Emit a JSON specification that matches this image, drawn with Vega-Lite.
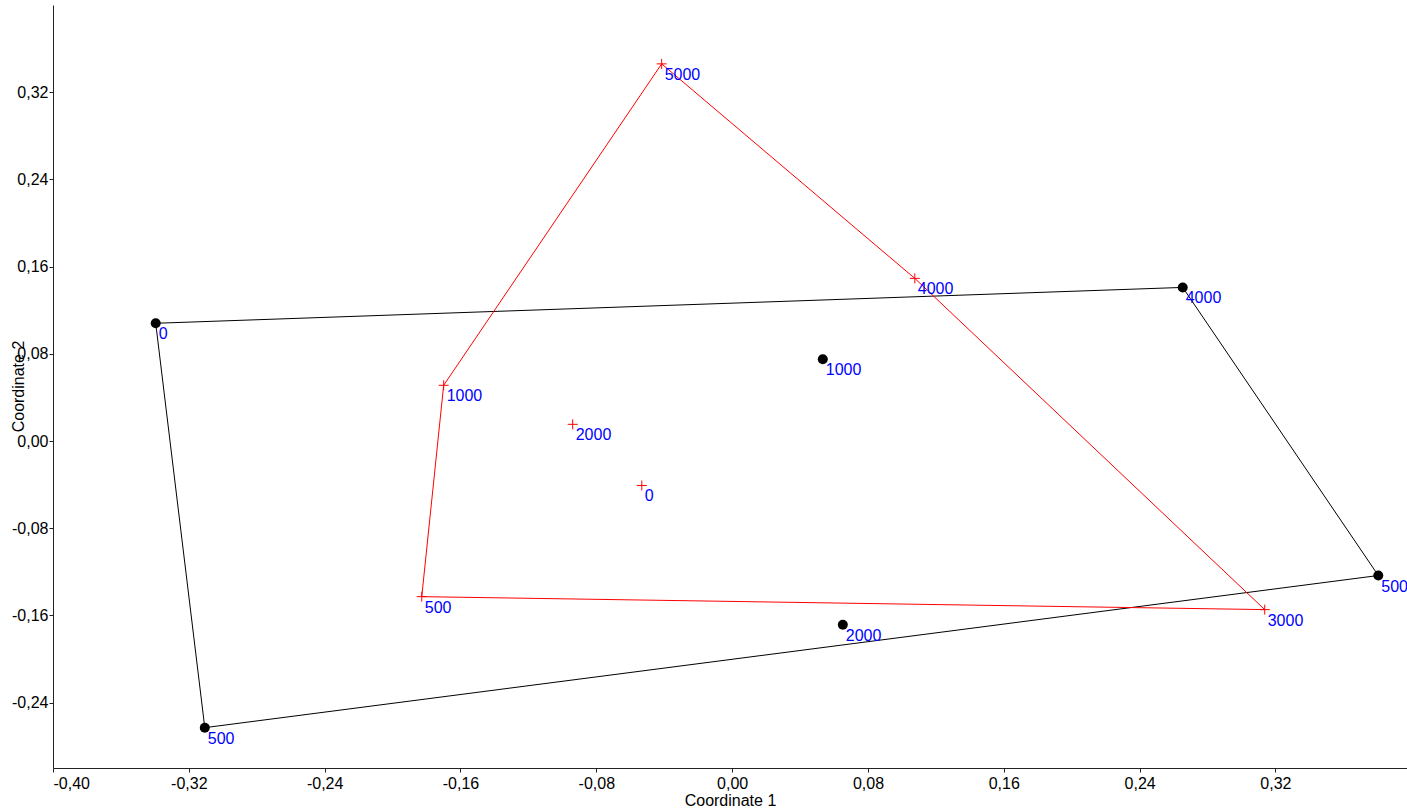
{
  "$schema": "https://vega.github.io/schema/vega-lite/v6.json",
  "autosize": "none",
  "width": 1354,
  "height": 763,
  "padding": {"left": 53, "top": 5, "right": 0, "bottom": 41},
  "background": "white",
  "config": {
    "view": {"stroke": null},
    "font": "Liberation Sans",
    "locale": {"number": {"decimal": ",", "thousands": ".", "grouping": [3], "currency": ["", ""], "minus": "-"}}
  },
  "datasets": {
    "pts": [
      {"group": "A", "label": "0", "x": -0.3395, "y": 0.108},
      {"group": "A", "label": "500", "x": -0.3106, "y": -0.263},
      {"group": "A", "label": "500", "x": 0.3806, "y": -0.1234},
      {"group": "A", "label": "4000", "x": 0.2654, "y": 0.1409},
      {"group": "A", "label": "1000", "x": 0.0534, "y": 0.075},
      {"group": "A", "label": "2000", "x": 0.0652, "y": -0.1685},
      {"group": "B", "label": "5000", "x": -0.0415, "y": 0.346},
      {"group": "B", "label": "4000", "x": 0.1076, "y": 0.1492},
      {"group": "B", "label": "3000", "x": 0.3137, "y": -0.1547},
      {"group": "B", "label": "500", "x": -0.1828, "y": -0.1428},
      {"group": "B", "label": "1000", "x": -0.1699, "y": 0.0511},
      {"group": "B", "label": "2000", "x": -0.0939, "y": 0.0153},
      {"group": "B", "label": "0", "x": -0.0532, "y": -0.0408}
    ],
    "hull": [
      {"group": "A", "order": 1, "x": -0.3395, "y": 0.108},
      {"group": "A", "order": 2, "x": 0.2654, "y": 0.1409},
      {"group": "A", "order": 3, "x": 0.3806, "y": -0.1234},
      {"group": "A", "order": 4, "x": -0.3106, "y": -0.263},
      {"group": "A", "order": 5, "x": -0.3395, "y": 0.108},
      {"group": "B", "order": 1, "x": -0.0415, "y": 0.346},
      {"group": "B", "order": 2, "x": 0.1076, "y": 0.1492},
      {"group": "B", "order": 3, "x": 0.3137, "y": -0.1547},
      {"group": "B", "order": 4, "x": -0.1828, "y": -0.1428},
      {"group": "B", "order": 5, "x": -0.1699, "y": 0.0511},
      {"group": "B", "order": 6, "x": -0.0415, "y": 0.346}
    ]
  },
  "encoding": {
    "x": {
      "field": "x", "type": "quantitative",
      "scale": {"domain": [-0.4, 0.3975], "nice": false, "zero": false},
      "axis": {
        "title": "Coordinate 1", "values": [-0.4, -0.32, -0.24, -0.16, -0.08, 0, 0.08, 0.16, 0.24, 0.32],
        "format": ".2f", "grid": false, "domainColor": "#222", "tickColor": "#222", "tickSize": 4,
        "labelFontSize": 16, "labelColor": "#000", "labelPadding": 3, "labelFont": "Liberation Sans",
        "titleFontSize": 16, "titleFontWeight": "normal", "titleColor": "#000", "titleFont": "Liberation Sans",
        "titleY": 32, "titleBaseline": "middle"
      }
    },
    "y": {
      "field": "y", "type": "quantitative",
      "scale": {"domain": [-0.3, 0.4], "nice": false, "zero": false},
      "axis": {
        "title": "Coordinate 2", "values": [-0.24, -0.16, -0.08, 0, 0.08, 0.16, 0.24, 0.32],
        "format": ".2f", "grid": false, "domainColor": "#222", "tickColor": "#222", "tickSize": 4,
        "labelFontSize": 16, "labelColor": "#000", "labelPadding": 1, "labelFont": "Liberation Sans",
        "titleFontSize": 16, "titleFontWeight": "normal", "titleColor": "#000", "titleFont": "Liberation Sans",
        "titleX": -35, "titleY": 381, "titleAngle": -90, "titleBaseline": "middle", "titleAlign": "center"
      }
    }
  },
  "layer": [
    {
      "data": {"name": "hull"},
      "mark": {"type": "line", "strokeWidth": 1},
      "encoding": {
        "color": {"field": "group", "type": "nominal", "scale": {"domain": ["A", "B"], "range": ["#000000", "#ff0000"]}, "legend": null},
        "order": {"field": "order", "type": "quantitative"}
      }
    },
    {
      "data": {"name": "pts"},
      "transform": [{"filter": "datum.group === 'A'"}],
      "mark": {"type": "point", "shape": "circle", "filled": true, "color": "#000000", "size": 100, "opacity": 1}
    },
    {
      "data": {"name": "pts"},
      "transform": [{"filter": "datum.group === 'B'"}],
      "mark": {"type": "point", "shape": "M-1,0H1M0,-1V1", "filled": false, "stroke": "#ff0000", "strokeWidth": 1, "size": 100, "opacity": 1}
    },
    {
      "data": {"name": "pts"},
      "mark": {"type": "text", "align": "left", "baseline": "middle", "dx": 3, "dy": 11, "fontSize": 16, "color": "#0000ff", "font": "Liberation Sans"},
      "encoding": {"text": {"field": "label", "type": "nominal"}}
    }
  ]
}
